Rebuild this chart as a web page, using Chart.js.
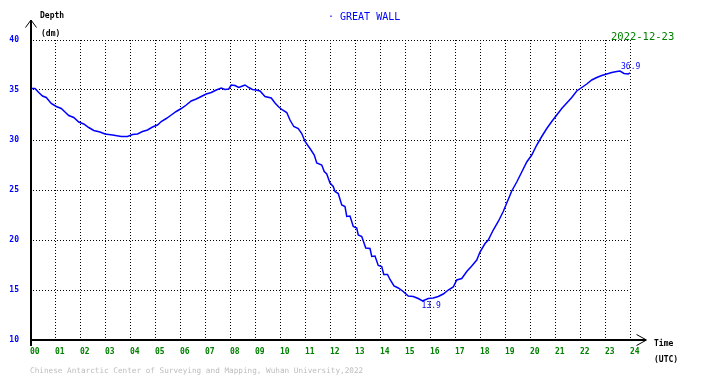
<!DOCTYPE html>
<html><head><meta charset="utf-8">
<script src="https://cdn.jsdelivr.net/npm/chart.js@4/dist/chart.umd.min.js"></script>
<style>html,body{margin:0;padding:0;background:#fff;overflow:hidden}#wrap{width:710px;height:378px;position:relative}</style>
</head><body><div id="wrap"><canvas id="c" width="710" height="378"></canvas></div>
<script>
// ---- data (hours UTC, depth in dm) ----
const hours = [0.0,0.2,0.35,0.5,0.65,0.85,1.05,1.25,1.4,1.55,1.75,1.95,2.15,2.35,2.55,2.8,3.0,3.3,3.65,3.9,4.1,4.3,4.5,4.7,4.9,5.1,5.25,5.45,5.65,5.85,6.05,6.25,6.45,6.65,6.85,7.05,7.25,7.45,7.65,7.8,7.95,8.05,8.2,8.35,8.5,8.6,8.75,8.9,9.05,9.2,9.4,9.65,9.8,9.95,10.1,10.27,10.4,10.55,10.73,10.87,11.0,11.2,11.37,11.47,11.67,11.77,11.87,12.0,12.13,12.2,12.33,12.47,12.6,12.67,12.8,12.93,13.07,13.13,13.27,13.43,13.6,13.67,13.8,13.93,14.07,14.15,14.3,14.4,14.56,14.73,14.93,15.13,15.33,15.53,15.7,15.93,16.13,16.33,16.53,16.73,16.93,17.07,17.27,17.47,17.67,17.87,18.0,18.2,18.33,18.53,18.73,18.93,19.07,19.27,19.47,19.67,19.87,20.07,20.27,20.47,20.67,20.87,21.07,21.27,21.47,21.67,21.87,22.07,22.27,22.47,22.67,22.87,23.07,23.27,23.47,23.6,23.76,23.93,24.0];
const depths = [35.15,35.15,34.75,34.4,34.25,33.65,33.35,33.15,32.8,32.45,32.25,31.8,31.6,31.25,30.95,30.8,30.6,30.5,30.35,30.35,30.55,30.6,30.85,31.0,31.3,31.5,31.85,32.15,32.5,32.85,33.15,33.5,33.9,34.1,34.35,34.6,34.75,35.0,35.2,35.05,35.1,35.5,35.45,35.25,35.4,35.5,35.25,35.05,35.0,34.9,34.35,34.2,33.7,33.3,33.0,32.75,32.0,31.35,31.15,30.65,29.85,29.15,28.5,27.7,27.5,26.85,26.6,25.7,25.35,24.85,24.65,23.5,23.35,22.35,22.4,21.35,21.2,20.5,20.35,19.2,19.15,18.35,18.4,17.45,17.35,16.55,16.55,16.05,15.4,15.2,14.85,14.4,14.35,14.15,13.9,14.15,14.2,14.35,14.6,15.0,15.3,16.0,16.15,16.85,17.4,18.0,18.8,19.65,20.0,21.0,21.85,22.85,23.7,24.9,25.8,26.8,27.8,28.5,29.5,30.35,31.15,31.85,32.5,33.15,33.7,34.25,34.9,35.25,35.6,36.0,36.25,36.45,36.6,36.75,36.85,36.9,36.65,36.6,36.7];
const hourLabels = ['00','01','02','03','04','05','06','07','08','09','10','11','12','13','14','15','16','17','18','19','20','21','22','23','24'];
const depthTicks = [10,15,20,25,30,35,40];
const stationName = 'GREAT WALL';
const dateText = '2022-12-23';
const yTitle = 'Depth';
const yUnit = '(dm)';
const xTitle = 'Time';
const xUnit = '(UTC)';
const footerText = 'Chinese Antarctic Center of Surveying and Mapping, Wuhan University,2022';

const MONO = '"DejaVu Sans Mono", "Liberation Mono", monospace';
const BLUE = '#0000ff', GREEN = '#008000';

const points = hours.map((h, i) => ({x: h, y: depths[i]}));

const decor = {
  id: 'decor',
  afterDraw(chart) {
    const ctx = chart.ctx, xs = chart.scales.x, ys = chart.scales.y;
    const x0 = xs.getPixelForValue(0), y0 = ys.getPixelForValue(10);
    ctx.save();
    ctx.fillStyle = '#000';
    // axes
    ctx.fillRect(x0, 20, 2, y0 + 6 - 20);
    ctx.fillRect(x0, y0 - 1, 646 - x0, 2);
    ctx.strokeStyle = '#000'; ctx.lineWidth = 1;
    ctx.beginPath();
    ctx.moveTo(25.5, 27.5); ctx.lineTo(31, 20); ctx.lineTo(36.5, 27.5);
    ctx.moveTo(636.5, 334.5); ctx.lineTo(646.5, 340); ctx.lineTo(636.5, 345.5);
    ctx.stroke();
    // texts
    ctx.textBaseline = 'middle';
    ctx.textAlign = 'left';
    ctx.font = 'bold 8px ' + MONO;
    ctx.fillStyle = '#000';
    ctx.fillText(yTitle, 40, 16);
    ctx.fillText(yUnit, 41, 34);
    ctx.fillText(xTitle, 654, 344);
    ctx.fillText(xUnit, 654, 360);
    ctx.font = '10px ' + MONO;
    ctx.fillStyle = BLUE;
    ctx.fillText('\u00b7 ' + stationName, 328, 17);
    ctx.fillStyle = GREEN;
    ctx.font = '10.5px ' + MONO;
    ctx.fillText(dateText, 611, 37);
    ctx.font = '7.7px ' + MONO;
    ctx.fillStyle = '#bdbdbd';
    ctx.fillText(footerText, 30, 371);
    // max / min labels
    let iMax = 0, iMin = 0;
    depths.forEach((d, i) => { if (d > depths[iMax]) iMax = i; if (d < depths[iMin]) iMin = i; });
    ctx.font = '8px ' + MONO;
    ctx.fillStyle = BLUE;
    ctx.textBaseline = 'bottom';
    ctx.fillText(depths[iMax].toFixed(1), xs.getPixelForValue(hours[iMax]) + 1, ys.getPixelForValue(depths[iMax]));
    ctx.textBaseline = 'top';
    ctx.fillText(depths[iMin].toFixed(1), xs.getPixelForValue(hours[iMin]) - 1, ys.getPixelForValue(depths[iMin]) + 1);
    ctx.restore();
  }
};

new Chart(document.getElementById('c'), {
  type: 'line',
  data: { datasets: [{ data: points, borderColor: BLUE, borderWidth: 1.5, pointRadius: 0, tension: 0, fill: false }] },
  options: {
    responsive: false, animation: false, devicePixelRatio: 1,
    layout: { padding: { top: 40, right: 80, left: 0, bottom: 0 } },
    plugins: { legend: { display: false }, tooltip: { enabled: false } },
    scales: {
      x: {
        type: 'linear', min: 0, max: 24,
        afterBuildTicks(s) { s.ticks = hourLabels.map((_, i) => ({ value: i })); },
        afterFit(s) { s.height = 38; },
        ticks: { autoSkip: false, maxRotation: 0, align: 'start', color: GREEN, padding: 7,
          font: { family: MONO, size: 8, weight: 'bold' }, callback: (v) => hourLabels[v] },
        grid: { color: '#000', lineWidth: 1, drawTicks: false, borderDash: [1, 2] },
        border: { display: false, dash: [1, 2] }
      },
      y: {
        min: 10, max: 40,
        afterBuildTicks(s) { s.ticks = depthTicks.map(v => ({ value: v })); },
        afterFit(s) { s.width = 30; },
        ticks: { color: BLUE, padding: 11, font: { family: MONO, size: 8, weight: 'bold' } },
        grid: { color: '#000', lineWidth: 1, drawTicks: false, borderDash: [1, 2] },
        border: { display: false, dash: [1, 2] }
      }
    }
  },
  plugins: [decor]
});
</script></body></html>
